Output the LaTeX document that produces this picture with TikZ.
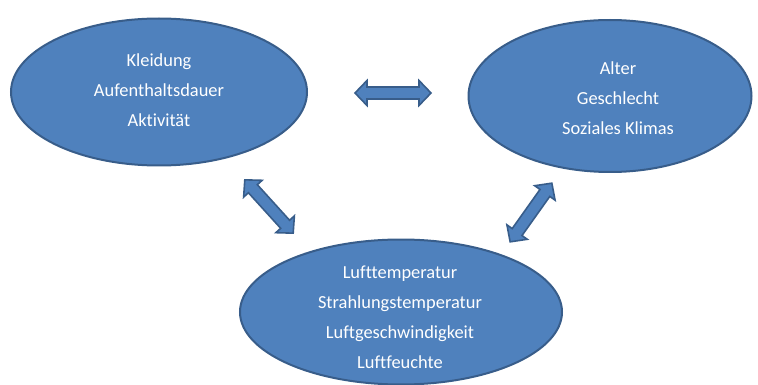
\documentclass[tikz,border=0pt]{standalone}
\usepackage{fontspec}
\setmainfont{Carlito}[Ligatures={NoCommon}]
\usetikzlibrary{shapes.geometric}
\definecolor{blfill}{HTML}{4F81BD}
\definecolor{blline}{HTML}{385D8A}
\tikzset{
  ell/.style={ellipse, draw=blline, fill=blfill, line width=1.5pt, inner sep=0pt},
  txt/.style={text=white, align=center, font=\fontsize{13.8}{22.5}\selectfont},
  blockarrow/.style={draw=blline, fill=blfill, line width=1.2pt, line join=miter}
}
\newcommand{\dblarrow}[4]{% center, angle, half length
  \begin{scope}[shift={#1}, rotate=#2]
    \draw[blockarrow] (-#3,0) -- (-#3+12,12.5) -- (-#3+12,6) -- (#3-12,6) -- (#3-12,12.5) -- (#3,0)
      -- (#3-12,-12.5) -- (#3-12,-6) -- (-#3+12,-6) -- (-#3+12,-12.5) -- cycle;
    \coordinate (#4) at (0,0);
  \end{scope}}
\begin{document}
\begin{tikzpicture}[x=0.75pt, y=-0.75pt]
\useasboundingbox (0,0) rectangle (758,385);
\node[ell, minimum width=296*0.75pt, minimum height=147*0.75pt] (left) at (159,92) {};
\node[ell, minimum width=283*0.75pt, minimum height=152*0.75pt] (right) at (610,96) {};
\node[ell, minimum width=322*0.75pt, minimum height=145*0.75pt] (bottom) at (401,312) {};
\node[txt] (lefttext) at (159,90) {Kleidung\\Aufenthaltsdauer\\Aktivität};
\node[txt] (righttext) at (618,98) {Alter\\Geschlecht\\Soziales Klimas};
\node[txt] (bottomtext) at (400,317) {Lufttemperatur\\Strahlungstemperatur\\Luftgeschwindigkeit\\Luftfeuchte};
\dblarrow{(393,93)}{0}{38}{a1}
\dblarrow{(269,206.5)}{-47.8}{36}{a2}
\dblarrow{(531,212.5)}{54.6}{36}{a3}
\end{tikzpicture}
\end{document}
